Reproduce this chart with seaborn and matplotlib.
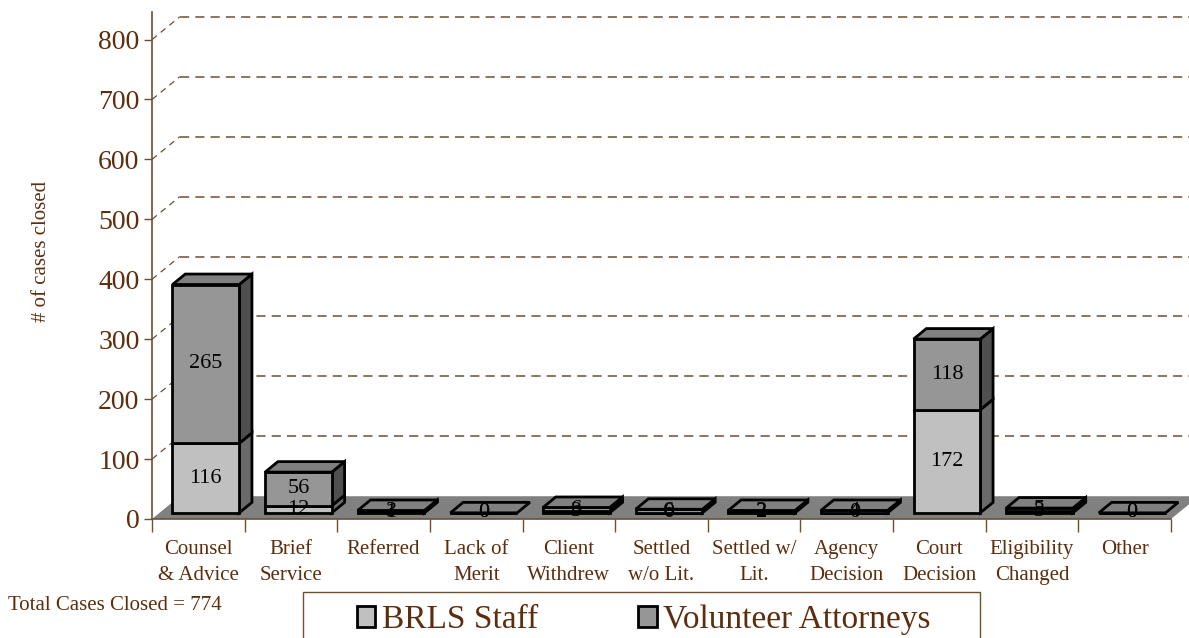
import matplotlib
matplotlib.use('Agg')
import matplotlib.pyplot as plt
from matplotlib.patches import Polygon, Rectangle, Patch
import numpy as np
import seaborn as sns

# Data
categories = ['Counsel\n& Advice', 'Brief\nService', 'Referred', 'Lack of\nMerit',
              'Client\nWithdrew', 'Settled\nw/o Lit.', 'Settled w/\nLit.',
              'Agency\nDecision', 'Court\nDecision', 'Eligibility\nChanged', 'Other']
staff = [116, 12, 1, 0, 3, 0, 2, 0, 172, 3, 0]
volunteer = [265, 56, 3, 0, 6, 6, 2, 4, 118, 5, 0]
series_names = ['BRLS Staff', 'Volunteer Attorneys']
y_ticks = [0, 100, 200, 300, 400, 500, 600, 700, 800]
y_label = '# of cases closed'
total_note = 'Total Cases Closed = 774'

sns.set_theme(style='white')
plt.rcParams['font.family'] = ['Liberation Serif', 'DejaVu Serif']

brown = '#5c2e0e'
line_brown = '#6e4f30'
staff_front, staff_side = '#c0c0c0', '#6a6a6a'
vol_front, vol_side, vol_top = '#969696', '#4f4f4f', '#808080'
floor_col = '#808080'

# fake 3D geometry (data units)
DX, DY = 0.30, 38.0          # full depth of the floor / back wall
f0, f1 = 0.27, 0.73          # bar front / back as fraction of depth
s = f0 * DX                  # x shift of bar front
base = f0 * DY               # y lift of bar front
ddx, ddy = (f1 - f0) * DX, (f1 - f0) * DY
w = 0.72
n = len(categories)

fig = plt.figure(figsize=(11.89, 6.38), dpi=100)
ax = fig.add_axes([152 / 1189, 119 / 638, 1019 / 1189, 507 / 638])

staff_a = np.array(staff)
vol_a = np.array(volunteer)

# front faces with seaborn
sns.barplot(x=categories, y=staff, order=categories, color=staff_front, saturation=1,
            width=w, bottom=base, edgecolor='black', linewidth=2, errorbar=None,
            ax=ax, zorder=3)
sns.barplot(x=categories, y=volunteer, order=categories, color=vol_front, saturation=1,
            width=w, bottom=base + staff_a, edgecolor='black', linewidth=2, errorbar=None,
            ax=ax, zorder=3)

x_left, x_right = -0.5 - s, n - 0.5 - s

# floor
ax.add_patch(Polygon([(x_left, 0), (x_right, 0), (x_right + DX, DY), (x_left + DX, DY)],
                     closed=True, fc=floor_col, ec='none', zorder=1, clip_on=False))

# back wall grid lines
for v in y_ticks[1:]:
    ax.plot([x_left + DX, x_right + DX], [v + DY, v + DY], ls=(0, (6, 4)), lw=1.1,
            color=line_brown, zorder=0.5, clip_on=False)
    ax.plot([x_left, x_left + DX], [v, v + DY], ls=(0, (5, 4)), lw=0.9,
            color=line_brown, zorder=0.5, clip_on=False)

# side and top faces
for k in range(n):
    x1 = k + w / 2
    x0 = k - w / 2
    segs = [(base, base + staff_a[k], staff_side),
            (base + staff_a[k], base + staff_a[k] + vol_a[k], vol_side)]
    for b, t, c in segs:
        if t > b:
            ax.add_patch(Polygon([(x1, b), (x1 + ddx, b + ddy), (x1 + ddx, t + ddy), (x1, t)],
                                 closed=True, fc=c, ec='black', lw=2, zorder=2.9, clip_on=False))
    top = base + staff_a[k] + vol_a[k]
    ax.add_patch(Polygon([(x0, top), (x1, top), (x1 + ddx, top + ddy), (x0 + ddx, top + ddy)],
                         closed=True, fc=vol_top, ec='black', lw=2, zorder=3.1, clip_on=False))
    # value labels
    ax.text(k, base + staff_a[k] + vol_a[k] / 2, str(volunteer[k]), ha='center', va='center',
            fontsize=16, color='black', zorder=5)
    ax.text(k, base + staff_a[k] / 2, str(staff[k]), ha='center', va='center',
            fontsize=16, color='black', zorder=5)
    # category labels
    ax.annotate(categories[k], xy=(k - s, 0), xycoords=('data', 'axes fraction'),
                xytext=(0, -15), textcoords='offset points', ha='center', va='top',
                fontsize=15, color=brown, linespacing=1.5)

ax.set_xlim(x_left, x_right)
ax.set_ylim(0, 846)
ax.set_yticks(y_ticks)
ax.set_yticklabels([str(v) for v in y_ticks], fontsize=20, color=brown)
ax.set_xticks([x_left + k for k in range(n + 1)])
ax.set_xticklabels([])
ax.tick_params(axis='y', which='both', left=True, length=6, width=1, color=line_brown, pad=3)
ax.tick_params(axis='x', which='both', bottom=True, length=9, width=1, color=line_brown)
ax.set_xlabel('')
ax.set_ylabel('')
for side in ['top', 'right']:
    ax.spines[side].set_visible(False)
for side in ['left', 'bottom']:
    ax.spines[side].set_color(line_brown)
    ax.spines[side].set_linewidth(1.2)
ax.patch.set_alpha(0)

fig.text(42 / 1189, 1 - 251 / 638, y_label, rotation=90, ha='center', va='center',
         fontsize=15, color=brown)
fig.text(8 / 1189, 1 - 605 / 638, total_note, ha='left', va='center',
         fontsize=15, color=brown)

# legend box (runs off the bottom edge)
fig.patches.append(Rectangle((303 / 1189, -0.1), 677 / 1189, 0.1 + 46 / 638,
                             transform=fig.transFigure, fc='white', ec=line_brown, lw=1))
handles = [Patch(fc=staff_front, ec='black', lw=2), Patch(fc=vol_front, ec='black', lw=2)]
fig.legend(handles, series_names, ncol=2, loc='center left',
           bbox_to_anchor=(357 / 1189, 1 - 620 / 638), frameon=False, fontsize=24,
           labelcolor=brown, handlelength=0.55, handleheight=0.55, handletextpad=0.2,
           columnspacing=3.0, borderaxespad=0, borderpad=0)

fig.savefig('out.png', dpi=100)
